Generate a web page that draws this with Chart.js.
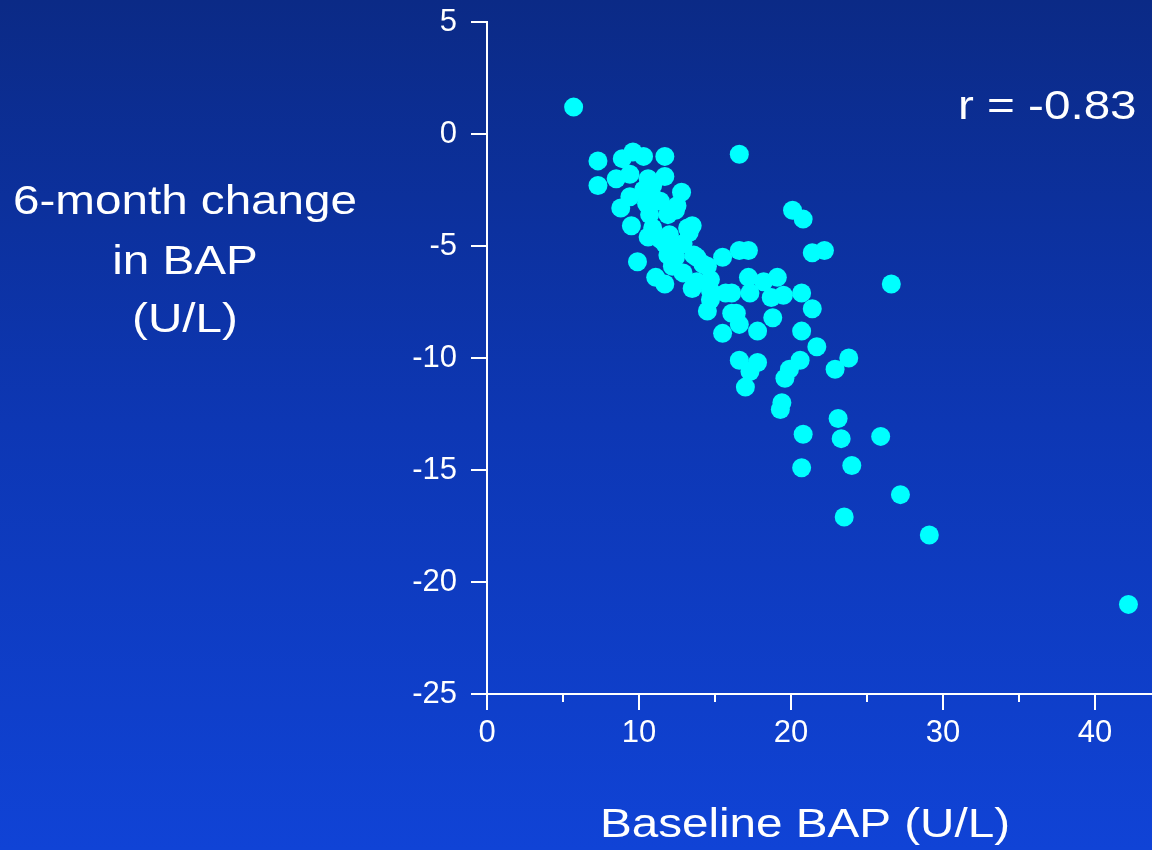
<!DOCTYPE html>
<html>
<head>
<meta charset="utf-8">
<script src="https://cdn.jsdelivr.net/npm/chart.js@4/dist/chart.umd.min.js"></script>
<style>
  html, body { margin: 0; padding: 0; }
  body { width: 1152px; height: 850px; overflow: hidden;
         background: linear-gradient(to bottom, #0b2a86 0%, #0d37b4 50%, #1043d6 100%); }
  #wrap { position: relative; width: 1152px; height: 850px; }
</style>
</head>
<body>
<div id="wrap"><canvas id="bapChart"></canvas></div>
<script>
// Baseline BAP (U/L) vs 6-month change in BAP (U/L).
const baselineBap = [
    5.7, 7.3, 7.3, 8.9, 9.6, 10.3, 11.7, 8.5, 9.4, 10.6,
    11.7, 12.8, 8.8, 9.5, 10.5, 9.4, 10.3, 10.9, 12.4, 13.5,
    10.9, 12.0, 13.2, 9.9, 11.1, 11.7, 10.6, 12.0, 12.4, 12.9,
    13.5, 13.8, 14.5, 14.7, 14.5, 14.7, 15.5, 15.7, 15.5, 12.9,
    14.2, 16.6, 17.2, 21.4, 22.2, 26.6, 16.6, 20.1, 20.8, 17.2,
    18.2, 19.1, 16.1, 17.3, 18.7, 19.5, 20.7, 21.4, 16.4, 16.6,
    17.8, 20.7, 21.7, 16.6, 17.8, 17.3, 17.0, 19.9, 20.6, 19.6,
    22.9, 23.8, 19.4, 19.3, 23.1, 20.8, 23.3, 25.9, 20.7, 24.0,
    27.2, 23.5, 29.1, 42.2, 18.8, 13.8, 14.7, 13.6, 11.4, 11.9,
    12.5, 11.4, 11.9, 10.7, 11.7, 16.1, 10.9, 13.3, 12.2
];
const changeBap = [
    1.2, -1.2, -2.3, -1.1, -0.8, -1.0, -1.0, -2.0, -1.8, -2.0,
    -1.9, -2.6, -3.3, -4.1, -3.1, -2.8, -2.5, -2.3, -3.4, -4.1,
    -4.2, -4.5, -4.2, -5.7, -6.4, -6.7, -4.6, -5.1, -5.5, -6.2,
    -6.9, -5.5, -5.9, -6.5, -7.9, -7.4, -5.5, -7.1, -8.9, -4.9,
    -5.8, -5.2, -5.2, -5.3, -5.2, -6.7, -0.9, -3.4, -3.8, -6.4,
    -6.6, -6.4, -7.1, -7.1, -7.3, -7.2, -7.1, -7.8, -8.0, -8.5,
    -8.8, -8.8, -9.5, -10.1, -10.2, -10.6, -11.3, -10.5, -10.1, -10.9,
    -10.5, -10.0, -12.0, -12.3, -12.7, -13.4, -13.6, -13.5, -14.9, -14.8,
    -16.1, -17.1, -17.9, -21.0, -8.2, -6.6, -7.0, -5.4, -3.0, -3.6,
    -3.2, -4.7, -5.4, -3.6, -4.9, -8.0, -2.8, -4.4, -5.9
];
const xMajorTicks = [0, 10, 20, 30, 40];
const xMinorTicks = [5, 15, 25, 35];
const yTicks = [5, 0, -5, -10, -15, -20, -25];
const rLabel = 'r = -0.83';
const xTitle = 'Baseline BAP (U/L)';
const yTitle = ['6-month change', 'in BAP', '(U/L)'];

const FONT = '"Liberation Sans", Arial, sans-serif';

// Titles in the slide are a wide sans; stretch Liberation Sans to match.
function wideText(ctx, text, cx, cy) {
    ctx.save();
    ctx.translate(cx, cy);
    ctx.scale(1.19, 1);
    ctx.fillText(text, 0, 0);
    ctx.restore();
}

const overlay = {
    id: 'overlay',
    afterDraw(chart) {
        const { ctx, scales: { x, y } } = chart;
        ctx.save();
        // minor ticks on the x axis
        ctx.strokeStyle = '#ffffff';
        ctx.lineWidth = 2;
        xMinorTicks.forEach(v => {
            const px = x.getPixelForValue(v);
            ctx.beginPath();
            ctx.moveTo(px, y.bottom);
            ctx.lineTo(px, y.bottom + 8);
            ctx.stroke();
        });
        ctx.fillStyle = '#ffffff';
        ctx.font = '40px ' + FONT;
        ctx.textAlign = 'center';
        ctx.textBaseline = 'middle';
        wideText(ctx, xTitle, 805, 826);
        wideText(ctx, yTitle[0], 185, 203);
        wideText(ctx, yTitle[1], 185, 263);
        wideText(ctx, yTitle[2], 185, 321);
        ctx.textAlign = 'left';
        ctx.save();
        ctx.translate(958, 108);
        ctx.scale(1.19, 1);
        ctx.fillText(rLabel, 0, 0);
        ctx.restore();
        ctx.restore();
    }
};

const chart = new Chart(document.getElementById('bapChart'), {
    type: 'scatter',
    data: {
        datasets: [{
            data: baselineBap.map((b, i) => ({ x: b, y: changeBap[i] })),
            backgroundColor: '#00ffff',
            borderWidth: 0,
            pointRadius: 9.5,
            pointHoverRadius: 9.5,
        }],
    },
    options: {
        responsive: true,
        maintainAspectRatio: false,
        animation: false,
        layout: { autoPadding: false, padding: { top: 22, right: 0, bottom: 0, left: 0 } },
        plugins: { legend: { display: false }, tooltip: { enabled: false } },
        scales: {
            x: {
                type: 'linear',
                min: 0,
                max: 43.75,
                afterBuildTicks: axis => { axis.ticks = xMajorTicks.map(v => ({ value: v })); },
                afterFit: axis => { axis.height = 156; axis.paddingLeft = 0; axis.paddingRight = 0; },
                ticks: { color: '#ffffff', font: { family: FONT, size: 31 }, padding: 5, maxRotation: 0 },
                grid: { drawOnChartArea: false, drawTicks: true, tickLength: 16, color: '#ffffff', lineWidth: 2 },
                border: { display: true, color: '#ffffff', width: 2 },
            },
            y: {
                type: 'linear',
                min: -25,
                max: 5,
                afterBuildTicks: axis => { axis.ticks = yTicks.map(v => ({ value: v })); },
                afterFit: axis => { axis.width = 487; axis.paddingTop = 0; axis.paddingBottom = 0; },
                ticks: { color: '#ffffff', font: { family: FONT, size: 31 }, padding: 14 },
                grid: { drawOnChartArea: false, drawTicks: true, tickLength: 16, color: '#ffffff', lineWidth: 2 },
                border: { display: true, color: '#ffffff', width: 2 },
            },
        },
    },
    plugins: [overlay],
});
</script>
</body>
</html>
